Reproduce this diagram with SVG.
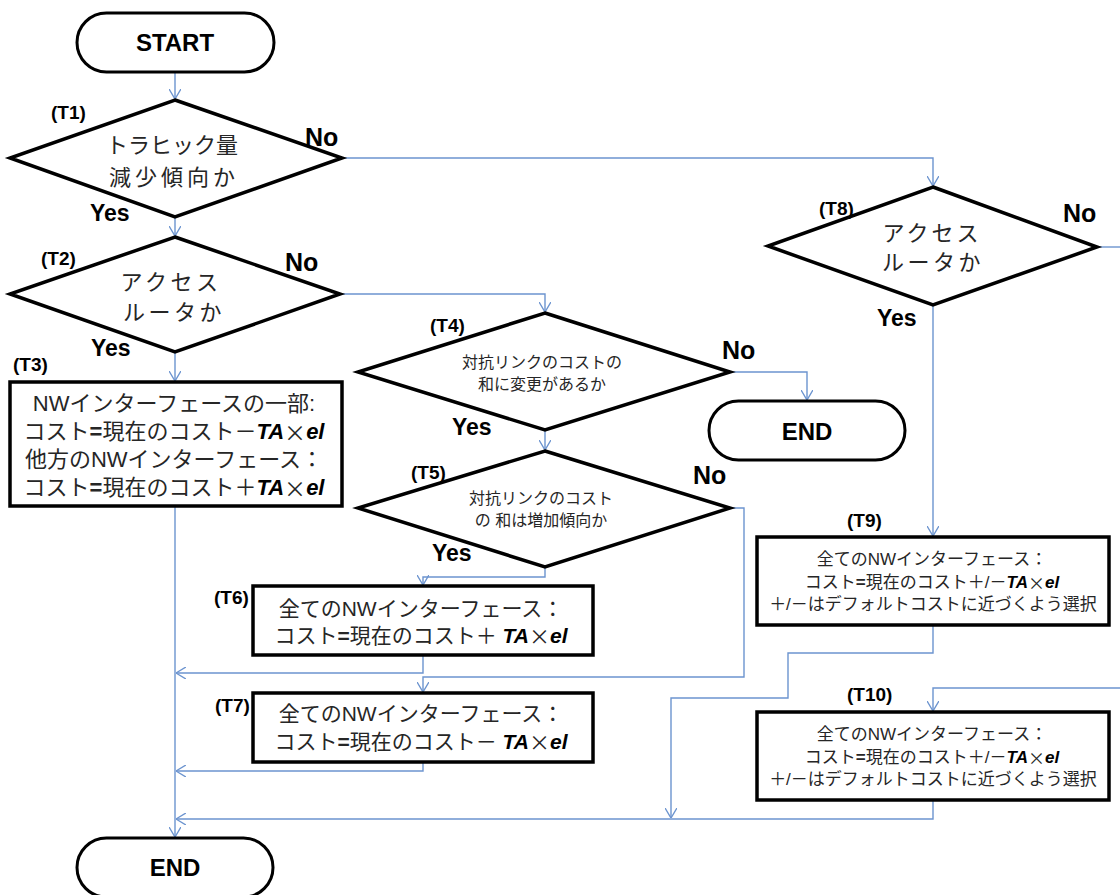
<svg xmlns="http://www.w3.org/2000/svg" width="1120" height="895" viewBox="0 0 1120 895">
<style>
.shape{fill:#fff;stroke:#000;stroke-width:3.5;stroke-linejoin:miter}
.term{fill:#fff;stroke:#000;stroke-width:3}
.conn{fill:none;stroke:#6C94CF;stroke-width:1.4}
.t{font-family:"Liberation Sans","Noto Sans CJK JP",sans-serif;fill:#262626;text-anchor:middle;dominant-baseline:central}
.lbl{font-family:"Liberation Sans","Noto Sans CJK JP",sans-serif;font-weight:bold;fill:#000;dominant-baseline:central}
.tm{font-family:"Liberation Sans",sans-serif;font-weight:bold;font-size:24px;fill:#000;text-anchor:middle;dominant-baseline:central}
.it{font-style:italic;font-weight:bold;fill:#000}
.b{font-weight:bold}
.x{font-family:"Noto Sans CJK JP",sans-serif}
</style>
<defs>
<marker id="arr" viewBox="0 0 10 12" refX="10" refY="6" markerWidth="10" markerHeight="12" markerUnits="userSpaceOnUse" orient="auto">
<path d="M0,0 L10,6 L0,12" fill="none" stroke="#6C94CF" stroke-width="1.4"/>
</marker>
</defs>
<g id="connectors">
<path class="conn" d="M175,72 V99" marker-end="url(#arr)"/>
<path class="conn" d="M342,158 H933 V186" marker-end="url(#arr)"/>
<path class="conn" d="M175,217 V236" marker-end="url(#arr)"/>
<path class="conn" d="M340,294 H545 V312" marker-end="url(#arr)"/>
<path class="conn" d="M175,352 V381" marker-end="url(#arr)"/>
<path class="conn" d="M175,506 V837" marker-end="url(#arr)"/>
<path class="conn" d="M730,372 H807 V400" marker-end="url(#arr)"/>
<path class="conn" d="M545,430 V450" marker-end="url(#arr)"/>
<path class="conn" d="M545,567 V577 H423 V585" marker-end="url(#arr)"/>
<path class="conn" d="M730,508 H744 V677 H423 V692" marker-end="url(#arr)"/>
<path class="conn" d="M423,655 V673 H176" marker-end="url(#arr)"/>
<path class="conn" d="M423,762 V771 H176" marker-end="url(#arr)"/>
<path class="conn" d="M933,305 V536" marker-end="url(#arr)"/>
<path class="conn" d="M1097,247 H1120"/>
<path class="conn" d="M933,625 V653 H788 V698 H671 V818" marker-end="url(#arr)"/>
<path class="conn" d="M1120,688 H933 V711" marker-end="url(#arr)"/>
<path class="conn" d="M933,800 V819 H176" marker-end="url(#arr)"/>
</g>
<g id="start">
<rect class="term" x="77" y="13" width="197" height="59" rx="29.5"/>
<text class="tm" x="175" y="42">START</text>
</g>
<g id="T1">
<polygon class="shape" points="175,100 342,158 175,217 10,158"/>
<text class="t" font-size="22" x="172" y="145">トラヒック量</text>
<text class="t" font-size="22" letter-spacing="4" x="174" y="177">減少傾向か</text>
<text class="lbl" font-size="19" x="51" y="112">(T1)</text>
<text class="lbl" font-size="25" x="305" y="137">No</text>
<text class="lbl" font-size="23" x="90" y="213">Yes</text>
</g>
<g id="T2">
<polygon class="shape" points="175,237 340,294 175,352 10,294"/>
<text class="t" font-size="22" letter-spacing="3.5" x="171" y="282">アクセス</text>
<text class="t" font-size="22" letter-spacing="3.5" x="174" y="312">ルータか</text>
<text class="lbl" font-size="19" x="41" y="258">(T2)</text>
<text class="lbl" font-size="25" x="285" y="262">No</text>
<text class="lbl" font-size="23" x="91" y="348">Yes</text>
</g>
<g id="T3">
<rect class="shape" x="10" y="382" width="332" height="124"/>
<text class="t" font-size="22" x="174" y="403">NWインターフェースの一部:</text>
<text class="t" font-size="22" x="174" y="431">コスト<tspan class="b">=</tspan>現在のコスト－<tspan class="it">TA</tspan><tspan class="x">×</tspan><tspan class="it">el</tspan></text>
<text class="t" font-size="22" x="174" y="459">他方のNWインターフェース：</text>
<text class="t" font-size="22" x="174" y="487">コスト<tspan class="b">=</tspan>現在のコスト＋<tspan class="it">TA</tspan><tspan class="x">×</tspan><tspan class="it">el</tspan></text>
<text class="lbl" font-size="19" x="13" y="364">(T3)</text>
</g>
<g id="T4">
<polygon class="shape" points="545,313 730,372 545,430 358,372"/>
<text class="t" font-size="16" x="542" y="362">対抗リンクのコストの</text>
<text class="t" font-size="16" x="542" y="384">和に変更があるか</text>
<text class="lbl" font-size="19" x="430" y="325">(T4)</text>
<text class="lbl" font-size="25" x="722" y="350">No</text>
<text class="lbl" font-size="23" x="452" y="427">Yes</text>
</g>
<g id="end2">
<rect class="term" x="709" y="401" width="196" height="59" rx="29.5"/>
<text class="tm" x="807" y="431">END</text>
</g>
<g id="T5">
<polygon class="shape" points="545,451 730,508 545,567 358,508"/>
<text class="t" font-size="16" x="541" y="498">対抗リンクのコスト</text>
<text class="t" font-size="16" x="541" y="520">の 和は増加傾向か</text>
<text class="lbl" font-size="19" x="411" y="472">(T5)</text>
<text class="lbl" font-size="25" x="693" y="475">No</text>
<text class="lbl" font-size="23" x="432" y="553">Yes</text>
</g>
<g id="T6">
<rect class="shape" x="253" y="586" width="340" height="69"/>
<text class="t" font-size="21" x="421" y="608">全てのNWインターフェース：</text>
<text class="t" font-size="21" x="421" y="635">コスト<tspan class="b">=</tspan>現在のコスト＋ <tspan class="it">TA</tspan><tspan class="x">×</tspan><tspan class="it">el</tspan></text>
<text class="lbl" font-size="19" x="214" y="597">(T6)</text>
</g>
<g id="T7">
<rect class="shape" x="253" y="693" width="340" height="69"/>
<text class="t" font-size="21" x="421" y="713">全てのNWインターフェース：</text>
<text class="t" font-size="21" x="421" y="741">コスト<tspan class="b">=</tspan>現在のコスト－ <tspan class="it">TA</tspan><tspan class="x">×</tspan><tspan class="it">el</tspan></text>
<text class="lbl" font-size="19" x="215" y="705">(T7)</text>
</g>
<g id="T8">
<polygon class="shape" points="933,187 1097,247 933,305 768,246"/>
<text class="t" font-size="22" letter-spacing="3" x="932" y="233">アクセス</text>
<text class="t" font-size="22" letter-spacing="3.5" x="933" y="262">ルータか</text>
<text class="lbl" font-size="19" x="819" y="208">(T8)</text>
<text class="lbl" font-size="25" x="1063" y="213">No</text>
<text class="lbl" font-size="23" x="877" y="318">Yes</text>
</g>
<g id="T9">
<rect class="shape" x="757" y="537" width="352" height="88"/>
<text class="t" font-size="17" x="932" y="559">全てのNWインターフェース：</text>
<text class="t" font-size="17" x="932" y="582">コスト<tspan class="b">=</tspan>現在のコスト＋/－<tspan class="it">TA</tspan><tspan class="x">×</tspan><tspan class="it">el</tspan></text>
<text class="t" font-size="17" x="933" y="604">＋/－はデフォルトコストに近づくよう選択</text>
<text class="lbl" font-size="19" x="847" y="520">(T9)</text>
</g>
<g id="T10">
<rect class="shape" x="757" y="712" width="352" height="88"/>
<text class="t" font-size="17" x="932" y="734">全てのNWインターフェース：</text>
<text class="t" font-size="17" x="932" y="757">コスト<tspan class="b">=</tspan>現在のコスト＋/－<tspan class="it">TA</tspan><tspan class="x">×</tspan><tspan class="it">el</tspan></text>
<text class="t" font-size="17" x="933" y="779">＋/－はデフォルトコストに近づくよう選択</text>
<text class="lbl" font-size="19" x="847" y="694">(T10)</text>
</g>
<g id="end">
<rect class="term" x="77" y="838" width="196" height="59" rx="29.5"/>
<text class="tm" x="175" y="867">END</text>
</g>
</svg>
